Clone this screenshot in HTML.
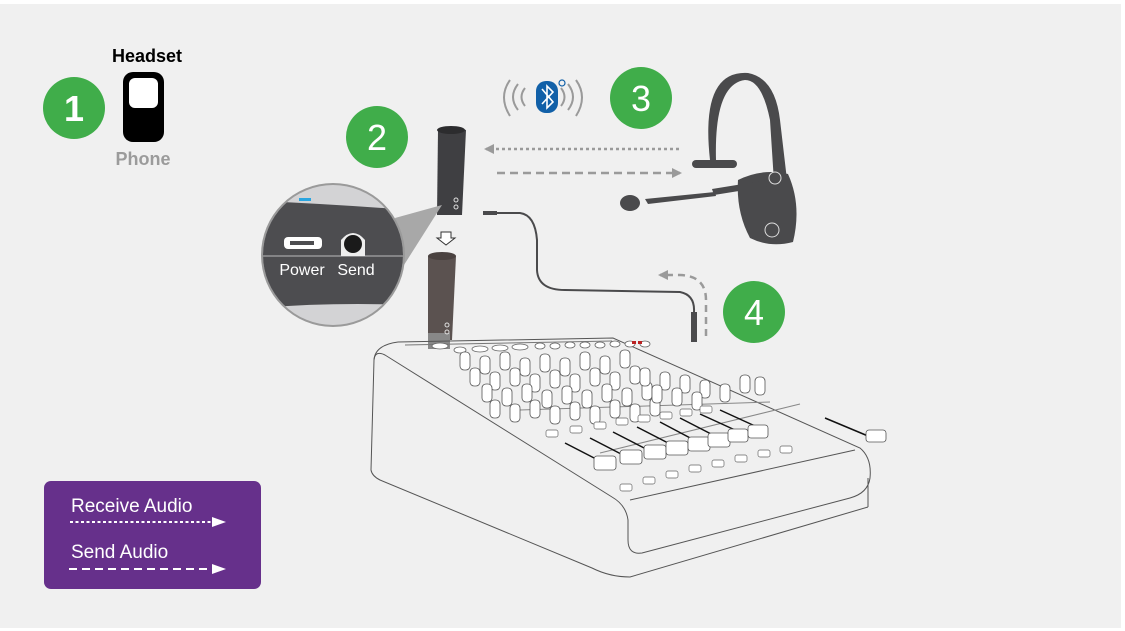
<!DOCTYPE html>
<html><head><meta charset="utf-8"><style>
html,body{margin:0;padding:0;background:#fff;}
svg{display:block;}
text{font-family:"Liberation Sans",sans-serif;}
</style></head><body>
<svg width="1125" height="631" viewBox="0 0 1125 631" xmlns="http://www.w3.org/2000/svg">
<defs>
<marker id="ag" markerWidth="10" markerHeight="10" refX="8" refY="5" orient="auto" markerUnits="userSpaceOnUse"><path d="M0,0 L10,5 L0,10 z" fill="#9a9a9a"/></marker>
<marker id="aw" markerWidth="14" markerHeight="10" refX="12" refY="5" orient="auto" markerUnits="userSpaceOnUse"><path d="M0,0 L14,5 L0,10 z" fill="#fff"/></marker>
<clipPath id="mc"><circle cx="333" cy="255" r="70"/></clipPath>
</defs>
<rect x="0" y="4" width="1121" height="624" fill="#f0f0f0"/>

<!-- step 1 -->
<circle cx="74" cy="108" r="31" fill="#40ad4a"/>
<text x="74" y="121" font-size="36" fill="#fff" text-anchor="middle" font-weight="bold">1</text>
<text x="147" y="62" font-size="18" font-weight="bold" fill="#000" text-anchor="middle">Headset</text>
<rect x="123" y="72" width="41" height="70" rx="10" fill="#000"/>
<rect x="129" y="78" width="29" height="30" rx="6" fill="#fff"/>
<text x="143" y="165" font-size="18" font-weight="bold" fill="#9b9b9b" text-anchor="middle">Phone</text>

<circle cx="377" cy="137" r="31" fill="#40ad4a"/>
<text x="377" y="150" font-size="36" fill="#fff" text-anchor="middle">2</text>
<circle cx="641" cy="98" r="31" fill="#40ad4a"/>
<text x="641" y="111" font-size="36" fill="#fff" text-anchor="middle">3</text>
<circle cx="754" cy="312" r="31" fill="#40ad4a"/>
<text x="754" y="325" font-size="36" fill="#fff" text-anchor="middle">4</text>

<!-- bluetooth waves -->
<g fill="none" stroke="#9a9a9a" stroke-width="2">
<path d="M510,80 Q498,97 510,116"/><path d="M518,84 Q508,97 518,110"/><path d="M525,88 Q518,97 525,106"/>
<path d="M576,80 Q588,97 576,116"/><path d="M568,84 Q578,97 568,110"/><path d="M561,88 Q568,97 561,106"/>
</g>
<rect x="536" y="81" width="22" height="32" rx="10" fill="#1160a8"/>
<path d="M542,89 L553,102 L547,108 L547,86 L553,92 L542,104" fill="none" stroke="#fff" stroke-width="1.6"/>
<circle cx="562" cy="83" r="3" fill="none" stroke="#1160a8" stroke-width="1.2"/>

<line x1="679" y1="149" x2="486" y2="149" stroke="#9a9a9a" stroke-width="2.5" stroke-dasharray="3,3" marker-end="url(#ag)"/>
<line x1="497" y1="173" x2="680" y2="173" stroke="#9a9a9a" stroke-width="2.5" stroke-dasharray="8,5" marker-end="url(#ag)"/>
<path d="M706,336 L706,300 Q706,276 680,275 L660,275" fill="none" stroke="#9a9a9a" stroke-width="2.5" stroke-dasharray="7,5" marker-end="url(#ag)"/>

<!-- headset -->
<g fill="#4a4a4c">
<path d="M710,160 Q700,70 748,73 Q775,78 780,120 L787,180 L774,182 L770,120 Q762,80 745,80 Q714,84 716,160 z"/>
<rect x="692" y="160" width="45" height="8" rx="4"/>
<path d="M738,180 Q762,168 788,174 Q802,205 793,242 Q770,248 750,238 Q736,212 738,180 z"/>
<path d="M712,189 L780,178 L782,184 L714,195 z"/>
<path d="M645,199 L715,192 L716,196 L648,204 z"/>
<ellipse cx="630" cy="203" rx="10" ry="8"/>
</g>
<circle cx="772" cy="230" r="7" fill="none" stroke="#ddd" stroke-width="1"/>
<circle cx="775" cy="178" r="6" fill="none" stroke="#ddd" stroke-width="1"/>

<path d="M497,213 L520,213 Q535,215 537,240 L537,270 Q538,290 565,290 L680,292 Q695,295 694,312 L694,330" fill="none" stroke="#4a4a4c" stroke-width="2"/>
<rect x="483" y="211" width="14" height="4" fill="#4a4a4c"/>
<rect x="691" y="312" width="6" height="30" fill="#4a4a4c"/>

<path d="M438,130 Q451,125 466,130 L462,215 L437,215 z" fill="#3f3f42"/>
<ellipse cx="451" cy="130" rx="14" ry="4" fill="#2c2c2e"/>
<circle cx="456" cy="200" r="2" fill="none" stroke="#ddd"/><circle cx="456" cy="207" r="2" fill="none" stroke="#ddd"/>
<path d="M441,232 L451,232 L451,238 L455,238 L446,245 L437,238 L441,238 z" fill="#fff" stroke="#333" stroke-width="1"/>
<path d="M428,256 Q441,250 456,256 L452,340 L428,340 z" fill="#5b5250"/>
<ellipse cx="442" cy="256" rx="14" ry="4" fill="#4a4240"/>
<rect x="428" y="333" width="22" height="16" fill="#888"/>
<circle cx="447" cy="325" r="2" fill="none" stroke="#ddd"/><circle cx="447" cy="332" r="2" fill="none" stroke="#ddd"/>

<!-- magnifier -->
<path d="M395,218 L442,205 L404,265 z" fill="#a8a8a8"/>
<circle cx="333" cy="255" r="72" fill="#9a9a9a"/>
<g clip-path="url(#mc)">
<rect x="260" y="180" width="150" height="150" fill="#d3d3d5"/>
<path d="M260,201 Q330,204 410,210 L410,305 Q330,302 260,308 z" fill="#4d4d50"/>
<line x1="260" y1="256" x2="410" y2="256" stroke="#bbb" stroke-width="1"/>
</g>
<rect x="299" y="198" width="12" height="3" fill="#2aa5e0"/>
<rect x="284" y="237" width="38" height="12" rx="4" fill="#fff"/>
<rect x="290" y="241" width="24" height="4" fill="#4d4d50"/>
<path d="M341,256 L341,240 Q353,226 365,240 L365,256 z" fill="#eee"/>
<circle cx="353" cy="244" r="9" fill="#1a1a1a"/>
<text x="302" y="275" font-size="16" fill="#fff" text-anchor="middle">Power</text>
<text x="356" y="275" font-size="16" fill="#fff" text-anchor="middle">Send</text>

<!-- mixer -->
<g fill="none" stroke="#555" stroke-width="1">
<path d="M398,342 L613,338 L860,448 Q872,458 870,478 Q868,493 850,498 L642,553 Q628,555 628,540 L628,520 Q626,505 612,497 L385,355 Q375,350 374,360 L371,470 Q372,476 380,480 L592,568 Q610,577 630,577 L868,507"/>
<path d="M398,342 Q375,345 374,360"/>
<path d="M630,500 L855,450"/>
<path d="M868,478 L868,507"/>
<path d="M405,345 L612,341" stroke="#777"/>
<path d="M520,410 L770,402 M600,453 L800,404" stroke="#888"/>
</g>
<!-- jacks -->
<g fill="#fff" stroke="#666" stroke-width="0.8">
<ellipse cx="440" cy="346" rx="8" ry="3"/><ellipse cx="460" cy="350" rx="6" ry="3"/><ellipse cx="480" cy="349" rx="8" ry="3"/><ellipse cx="500" cy="348" rx="8" ry="3"/><ellipse cx="520" cy="347" rx="8" ry="3"/><ellipse cx="540" cy="346" rx="5" ry="3"/><ellipse cx="555" cy="346" rx="5" ry="3"/><ellipse cx="570" cy="345" rx="5" ry="3"/><ellipse cx="585" cy="345" rx="5" ry="3"/><ellipse cx="600" cy="345" rx="5" ry="3"/><ellipse cx="615" cy="344" rx="5" ry="3"/><ellipse cx="630" cy="344" rx="5" ry="3"/><ellipse cx="645" cy="344" rx="5" ry="3"/>
</g>
<rect x="632" y="341" width="4" height="3" fill="#b22"/><rect x="638" y="341" width="4" height="3" fill="#b22"/>
<!-- knobs -->
<g fill="#fff" stroke="#555" stroke-width="0.8">
<g id="kr">
<rect x="460" y="352" width="10" height="18" rx="4"/><rect x="480" y="356" width="10" height="18" rx="4"/><rect x="500" y="352" width="10" height="18" rx="4"/><rect x="520" y="358" width="10" height="18" rx="4"/><rect x="540" y="354" width="10" height="18" rx="4"/><rect x="560" y="358" width="10" height="18" rx="4"/><rect x="580" y="352" width="10" height="18" rx="4"/><rect x="600" y="356" width="10" height="18" rx="4"/><rect x="620" y="350" width="10" height="18" rx="4"/>
</g>
<use href="#kr" x="10" y="16"/><use href="#kr" x="22" y="32"/><use href="#kr" x="30" y="48"/>
<rect x="640" y="368" width="10" height="18" rx="4"/><rect x="660" y="372" width="10" height="18" rx="4"/><rect x="680" y="375" width="10" height="18" rx="4"/><rect x="700" y="380" width="10" height="18" rx="4"/><rect x="720" y="384" width="10" height="18" rx="4"/><rect x="740" y="375" width="10" height="18" rx="4"/><rect x="755" y="377" width="10" height="18" rx="4"/>
<rect x="652" y="385" width="10" height="18" rx="4"/><rect x="672" y="388" width="10" height="18" rx="4"/><rect x="692" y="392" width="10" height="18" rx="4"/>
</g>
<!-- buttons -->
<g fill="#fff" stroke="#666" stroke-width="0.7">
<rect x="546" y="430" width="12" height="7" rx="2"/><rect x="570" y="426" width="12" height="7" rx="2"/><rect x="594" y="422" width="12" height="7" rx="2"/><rect x="616" y="418" width="12" height="7" rx="2"/><rect x="638" y="415" width="12" height="7" rx="2"/><rect x="660" y="412" width="12" height="7" rx="2"/><rect x="680" y="409" width="12" height="7" rx="2"/><rect x="700" y="406" width="12" height="7" rx="2"/>
<rect x="620" y="484" width="12" height="7" rx="2"/><rect x="643" y="477" width="12" height="7" rx="2"/><rect x="666" y="471" width="12" height="7" rx="2"/><rect x="689" y="465" width="12" height="7" rx="2"/><rect x="712" y="460" width="12" height="7" rx="2"/><rect x="735" y="455" width="12" height="7" rx="2"/><rect x="758" y="450" width="12" height="7" rx="2"/><rect x="780" y="446" width="12" height="7" rx="2"/>
</g>
<g stroke="#111" stroke-width="1.5">
<line x1="565" y1="443" x2="598" y2="460"/><line x1="590" y1="438" x2="623" y2="455"/><line x1="613" y1="432" x2="648" y2="450"/><line x1="637" y1="427" x2="672" y2="445"/><line x1="660" y1="422" x2="694" y2="440"/><line x1="680" y1="418" x2="715" y2="436"/><line x1="700" y1="414" x2="735" y2="430"/><line x1="720" y1="410" x2="755" y2="426"/><line x1="825" y1="418" x2="868" y2="436"/>
</g>
<g fill="#fff" stroke="#555" stroke-width="0.8">
<rect x="594" y="456" width="22" height="14" rx="3"/><rect x="620" y="450" width="22" height="14" rx="3"/><rect x="644" y="445" width="22" height="14" rx="3"/><rect x="666" y="441" width="22" height="14" rx="3"/><rect x="688" y="437" width="22" height="14" rx="3"/><rect x="708" y="433" width="22" height="14" rx="3"/><rect x="728" y="429" width="20" height="13" rx="3"/><rect x="748" y="425" width="20" height="13" rx="3"/><rect x="866" y="430" width="20" height="12" rx="3"/>
</g>

<!-- legend -->
<rect x="44" y="481" width="217" height="108" rx="7" fill="#66308b"/>
<text x="71" y="512" font-size="19" fill="#fff">Receive Audio</text>
<line x1="70" y1="522" x2="224" y2="522" stroke="#fff" stroke-width="2" stroke-dasharray="3,2.5" marker-end="url(#aw)"/>
<text x="71" y="558" font-size="19" fill="#fff">Send Audio</text>
<line x1="69" y1="569" x2="224" y2="569" stroke="#fff" stroke-width="2" stroke-dasharray="8,5" marker-end="url(#aw)"/>
</svg>
</body></html>
